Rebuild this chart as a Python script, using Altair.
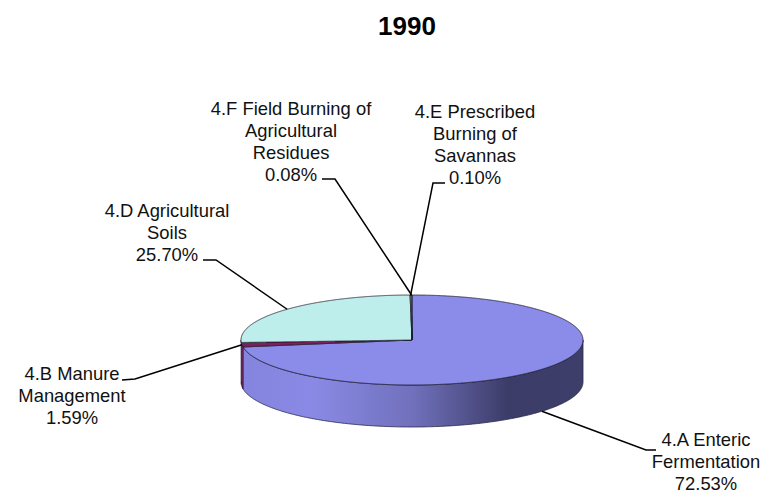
import numpy as np
import pandas as pd
import altair as alt

# --- chart values ---
CATEGORIES = ["4.A Enteric Fermentation", "4.B Manure Management", "4.D Agricultural Soils",
              "4.E Prescribed Burning of Savannas", "4.F Field Burning of Agricultural Residues"]
SHARES = [72.53, 1.59, 25.70, 0.10, 0.08]
LABEL_LINES = ["4.A Enteric\nFermentation", "4.B Manure\nManagement", "4.D Agricultural\nSoils",
               "4.E Prescribed\nBurning of\nSavannas", "4.F Field Burning of\nAgricultural\nResidues"]
TOP_COLORS = ["#8b8bea", "#7d1f5c", "#bdeeec", "#ffffc8", "#f4a0a0"]

# --- layout (page pixels) ---
CX, CY, RX, RY, DEPTH = 412, 340, 171, 45, 42
LABEL_POS = [(706, 431), (72, 365), (167, 202), (475, 103), (291, 100)]
ELBOWS = [[(646, 450), (656, 450)], [(135, 379), (122, 380)], [(216, 260), (203, 260)],
          [(433, 183), (445, 183)], [(335, 179), (322, 179)]]
FONT = "Liberation Sans"
EDGE = "#26264a"


def px(deg):
    r = np.radians(deg)
    return CX + RX * np.sin(r), CY - RY * np.cos(r)


def wedge_scan(a0, a1):
    """Vertical spans of an elliptical wedge, derived from its two angles."""
    arc = np.linspace(a0, a1, max(int((a1 - a0) * 2), 8))
    poly = [(CX, CY)] + [px(a) for a in arc]
    xs = np.array([p[0] for p in poly])
    ys = np.array([p[1] for p in poly])
    eps = 1e-3
    grid = np.unique(np.concatenate([np.linspace(xs.min(), xs.max(), 500), xs - eps, xs + eps]))
    grid = grid[(grid >= xs.min()) & (grid <= xs.max())]
    rows = []
    xa, ya, xb, yb = xs, ys, np.roll(xs, -1), np.roll(ys, -1)
    for g in grid:
        m = ((xa <= g) & (xb > g)) | ((xb <= g) & (xa > g))
        if not m.any():
            continue
        cross = ya[m] + (g - xa[m]) * (yb[m] - ya[m]) / (xb[m] - xa[m])
        rows.append((g, cross.min(), cross.max()))
    return pd.DataFrame(rows, columns=["x", "y", "y2"])


def side_scan(a0, a1):
    arc = np.linspace(a0, a1, 300)
    xs, ys = px(arc)
    return pd.DataFrame({"x": xs, "y": ys, "y2": ys + DEPTH})


X = alt.X("x:Q", scale=alt.Scale(domain=[8, 762], range=[0, 754]), axis=None)
Y = alt.Y("y:Q", scale=alt.Scale(domain=[48, 494], range=[0, 446]), axis=None)
Y2 = alt.Y2("y2:Q")

edges = np.cumsum([0] + SHARES) / sum(SHARES) * 360
layers = []

# side walls
grad = alt.Gradient(gradient="linear", x1=0, x2=1, y1=0, y2=0, stops=[
    alt.GradientStop(offset=0.0, color="#8484de"),
    alt.GradientStop(offset=0.2, color="#8a8ae6"),
    alt.GradientStop(offset=0.5, color="#7070bc"),
    alt.GradientStop(offset=0.78, color="#3c3c68"),
    alt.GradientStop(offset=1.0, color="#3e3e6a"),
])
layers.append(alt.Chart(side_scan(90, edges[1])).mark_area(
    fill=grad, stroke=EDGE, strokeWidth=0.8).encode(x=X, y=Y, y2=Y2))
layers.append(alt.Chart(side_scan(edges[1], 270)).mark_area(
    color="#7d1f5c", stroke=EDGE, strokeWidth=0.6).encode(x=X, y=Y, y2=Y2))

# top faces
for i, color in enumerate(TOP_COLORS):
    layers.append(alt.Chart(wedge_scan(edges[i], edges[i + 1])).mark_area(
        color=color, stroke="#1c1c2c", strokeWidth=0.8).encode(x=X, y=Y, y2=Y2))

# leader lines
rows = []
for i, elbow in enumerate(ELBOWS):
    mid = (edges[i] + edges[i + 1]) / 2
    sx, sy = px(mid)
    if i == 0:
        sy += DEPTH
    pts = [(sx, sy)] + elbow
    for k, (x, y) in enumerate(pts):
        rows.append({"cat": CATEGORIES[i], "k": k, "x": x, "y": y})
layers.append(alt.Chart(pd.DataFrame(rows)).mark_line(color="black", strokeWidth=1.5).encode(
    x=X, y=Y, detail="cat:N", order="k:Q"))

# labels
labels = pd.DataFrame({
    "x": [p[0] for p in LABEL_POS],
    "y": [p[1] for p in LABEL_POS],
    "label": [f"{t}\n{s:.2f}%" for t, s in zip(LABEL_LINES, SHARES)],
})
layers.append(alt.Chart(labels).mark_text(
    font=FONT, fontSize=18.4, lineBreak="\n", lineHeight=22, align="center", baseline="top", color="#111111"
).encode(x=X, y=Y, text="label:N"))

chart = alt.layer(*layers).properties(
    width=754, height=446,
    padding={"left": 0, "right": 0, "top": 40, "bottom": 0},
    autosize=alt.AutoSizeParams(type="none"),
    title=alt.Title("1990", anchor="middle", dx=22, font=FONT, fontSize=26, fontWeight="bold",
                    color="black", offset=8),
).configure_view(stroke=None)

chart.save("out.html", embed_options={"renderer": "svg", "actions": False})
